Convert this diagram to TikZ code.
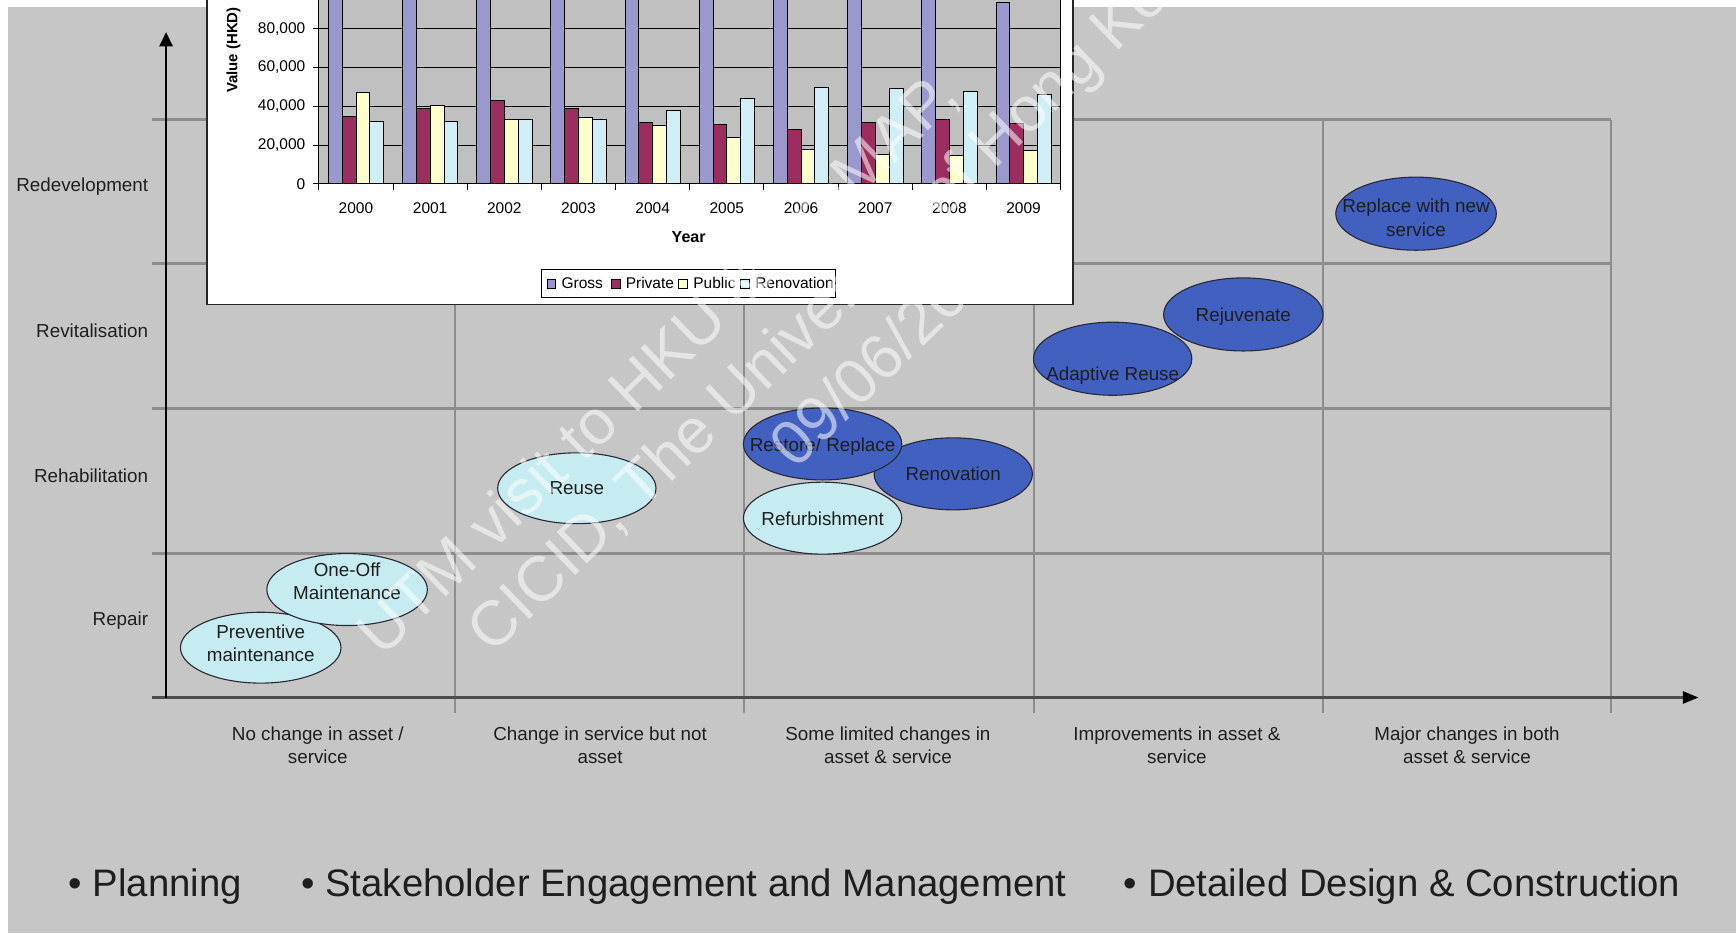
\documentclass[tikz,border=0pt]{standalone}
\usepackage{fontspec}
\setmainfont{Liberation Sans}
\usetikzlibrary{shapes.geometric,arrows.meta}
\definecolor{bggray}{RGB}{198,198,198}
\definecolor{plotgray}{RGB}{192,192,192}
\definecolor{gridgray}{RGB}{142,140,140}
\definecolor{grossc}{RGB}{155,152,206}
\definecolor{privc}{RGB}{155,45,95}
\definecolor{pubc}{RGB}{255,255,204}
\definecolor{renoc}{RGB}{208,238,245}
\definecolor{lcyan}{RGB}{198,236,242}
\definecolor{dblue}{RGB}{66,96,192}
\definecolor{txt}{RGB}{30,30,30}
\begin{document}
\begin{tikzpicture}[x=1pt,y=-1pt,
  gridline/.style={draw=gridgray,line width=2},
  yaxisline/.style={draw=black,line width=2,-{Triangle[length=13pt,width=12pt]}},
  xaxisline/.style={draw=black!70,line width=2,-{Triangle[length=14pt,width=11pt,color=black]}},
  lbl/.style={font=\fontsize{17}{21}\selectfont,text=txt,align=center,inner sep=0},
  rowlbl/.style={lbl,anchor=east},
  ell/.style={ellipse,draw={rgb,255:red,40;green,40;blue,55},line width=1,inner sep=0},
  etext/.style={font=\fontsize{17}{21.5}\selectfont,text=txt,align=center,inner sep=0},
  lell/.style={ell,fill=lcyan},
  dell/.style={ell,fill=dblue},
  charttxt/.style={font=\fontsize{14}{16}\selectfont,inner sep=0,text=black},
  barbox/.style={draw=black,line width=0.7},
  legsq/.style={draw=black,line width=0.6,minimum size=8pt,inner sep=0},
  bigtxt/.style={font=\fontsize{34.6}{40}\selectfont,text=txt,inner sep=0,anchor=base west},
  wmark/.style={font=\fontsize{57}{60}\selectfont,text=white,text opacity=0.55,inner sep=0,anchor=base west,rotate=44}
]
\useasboundingbox (0,0) rectangle (1568,843);
\clip (0,0) rectangle (1568,843);
\fill[white] (0,0) rectangle (1568,843);
\fill[bggray] (7,6) rectangle (1568,843);

% ---------- matrix grid ----------
\foreach \yy in {108,238,369,500} \draw[gridline] (137,\yy) -- (1455,\yy);
\foreach \xx in {411,672,934,1195,1455} \draw[gridline] (\xx,108) -- (\xx,644);

\coordinate (origin) at (150,630);
\coordinate (ytip) at (150,29);
\coordinate (xstart) at (137,630);
\coordinate (xtip) at (1534,630);
\draw[xaxisline] (xstart) -- (xtip);
\draw[yaxisline] (origin) -- (ytip);

% row labels
\node[rowlbl] (rRedev) at (134,169) {Redevelopment};
\node[rowlbl] (rRevit) at (134,299) {Revitalisation};
\node[rowlbl] (rRehab) at (134,430) {Rehabilitation};
\node[rowlbl] (rRepair) at (134,561) {Repair};

% column labels
\node[lbl] (c1) at (287,673) {No change in asset /\\service};
\node[lbl] (c2) at (542,673) {Change in service but not\\asset};
\node[lbl] (c3) at (802,673) {Some limited changes in\\asset \& service};
\node[lbl] (c4) at (1063,673) {Improvements in asset \&\\service};
\node[lbl] (c5) at (1325,673) {Major changes in both\\asset \& service};

% ---------- inset chart ----------
\fill[white,draw=black!85,line width=1.2] (187,-5) rectangle (969,275);
\fill[plotgray] (288,-5) rectangle (958,166);
\foreach \v in {1,...,4} \draw[black,line width=0.8] (288,166-35*\v) -- (958,166-35*\v);
\draw[black,line width=0.8] (958,-5) -- (958,166);
\foreach \k/\g/\p/\q/\r in {0/110/35.0/47.4/32.4, 1/110/38.8/40.7/32.4, 2/110/42.9/33.1/33.1,
   3/110/38.8/34.5/33.1, 4/110/31.6/30.2/37.9, 5/110/30.4/24.2/44.3, 6/110/28.3/17.9/49.6,
   7/110/31.6/15.3/49.3, 8/110/33.1/14.7/47.5, 9/93.7/31.1/17.0/46.0} {
  \pgfmathsetmacro\xa{288+67*\k+8.5}
  \fill[grossc,barbox] (\xa,166) rectangle ++(12.5,-1.75*\g);
  \fill[privc,barbox] (\xa+12.5,166) rectangle ++(12.5,-1.75*\p);
  \fill[pubc,barbox] (\xa+25,166) rectangle ++(12.5,-1.75*\q);
  \fill[renoc,barbox] (\xa+37.5,166) rectangle ++(12.5,-1.75*\r);
}
\draw[black,line width=1] (288,-5) -- (288,166) -- (958,166);
\foreach \v in {0,...,4} \draw[black,line width=0.8] (283,166-35*\v) -- (288,166-35*\v);
\foreach \k in {0,...,10} \draw[black,line width=0.8] (288+67*\k,166) -- (288+67*\k,172);
\foreach \v/\t in {0/0, 1/{20,000}, 2/{40,000}, 3/{60,000}, 4/{80,000}}
  \node[charttxt,anchor=east] (tick\v) at (276,166-35*\v) {\t};
\foreach \k in {0,...,9} {
  \pgfmathtruncatemacro\yr{2000+\k}
  \node[charttxt] (yr\k) at (288+67*\k+33.5,188) {\yr};
}
\node[charttxt,font=\bfseries\fontsize{14.5}{16}\selectfont] (xtitle) at (622,214) {Year};
\node[charttxt,font=\bfseries\fontsize{13.5}{16}\selectfont,rotate=90,anchor=west] (ytitle) at (211,84) {Value (HKD)};
% legend
\node[draw=black,line width=0.8,fill=white,minimum width=266pt,minimum height=26pt,inner sep=0] (legend) at (622,256) {};
\node[legsq,fill=grossc] (lg1) at (498,256) {};
\node[charttxt,anchor=west,font=\fontsize{14}{16}\selectfont] (lt1) at (507,256) {Gross};
\node[legsq,fill=privc] (lg2) at (556,256) {};
\node[charttxt,anchor=west,font=\fontsize{14}{16}\selectfont] (lt2) at (565,256) {Private};
\node[legsq,fill=pubc] (lg3) at (617,256) {};
\node[charttxt,anchor=west,font=\fontsize{14}{16}\selectfont] (lt3) at (626,256) {Public};
\node[legsq,fill=renoc] (lg4) at (673,256) {};
\node[charttxt,anchor=west,font=\fontsize{14}{16}\selectfont] (lt4) at (682,256) {Renovation};

% ---------- ellipses ----------
\node[lell,minimum width=145pt,minimum height=64pt] (prev) at (235.5,585) {};
\node[etext] (prevT) at (235.5,581) {Preventive\\maintenance};
\node[lell,minimum width=145pt,minimum height=65pt] (oneoff) at (313.5,532.5) {};
\node[etext] (oneoffT) at (313.5,525) {One-Off\\Maintenance};
\node[lell,minimum width=143pt,minimum height=64pt] (reuse) at (521,441) {};
\node[etext] (reuseT) at (reuse.center) {Reuse};
\node[lell,minimum width=143pt,minimum height=65pt] (refurb) at (743,468) {};
\node[etext] (refurbT) at (743,469) {Refurbishment};
\node[dell,minimum width=143pt,minimum height=65pt] (renov) at (861,428) {};
\node[etext] (renovT) at (renov.center) {Renovation};
\node[dell,minimum width=143pt,minimum height=65pt] (restore) at (743,401) {};
\node[etext] (restoreT) at (743,403) {Restore/ Replace};
\node[dell,minimum width=143pt,minimum height=66pt] (adapt) at (1005,324) {};
\node[etext] (adaptT) at (1005,339) {Adaptive Reuse};
\node[dell,minimum width=144pt,minimum height=66pt] (rejuv) at (1123,284) {};
\node[etext] (rejuvT) at (1123,286) {Rejuvenate};
\node[dell,minimum width=145pt,minimum height=66pt] (replace) at (1279,193) {};
\node[etext] (replaceT) at (1279,197) {Replace with new\\service};

% ---------- bottom bullets ----------
\node[bigtxt] (b1) at (62,810) {• Planning};
\node[bigtxt] (b2) at (272,810) {• Stakeholder Engagement and Management};
\node[bigtxt] (b3) at (1015,810) {• Detailed Design \& Construction};

% ---------- watermark ----------
\node[wmark] (w1) at (345,595) {UTM visit to HKU \& ProMAP,};
\node[wmark] (w2) at (445,592) {CICID, The University of Hong Kong};
\node[wmark] (w3) at (718,425) {09/06/2011};
\end{tikzpicture}
\end{document}
